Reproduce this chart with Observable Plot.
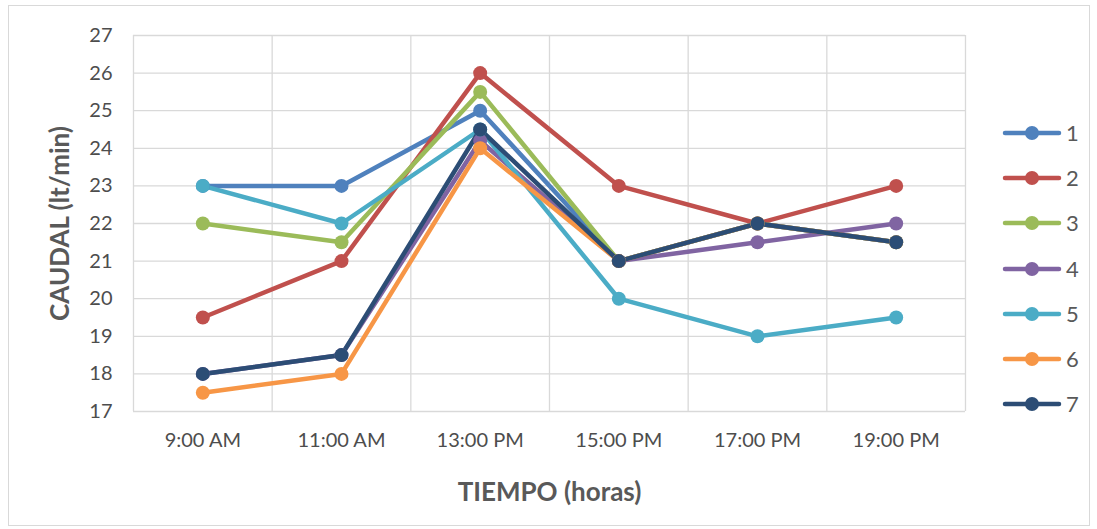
<!DOCTYPE html>
<html>
<head>
<meta charset="utf-8">
<script src="https://cdn.jsdelivr.net/npm/d3@7"></script>
<script src="https://cdn.jsdelivr.net/npm/@observablehq/plot@0.6"></script>
<style>
  html, body { margin: 0; padding: 0; background: #fff; }
  #wrap { position: relative; width: 1097px; height: 529px; font-family: Lato, "Open Sans", sans-serif; }
  #border { position: absolute; left: 8px; top: 5px; width: 1082px; height: 521px; border: 1px solid #d9d9d9; box-sizing: border-box; pointer-events: none; }
  #legend { position: absolute; left: 1002px; top: 110px; }
  .item { display: flex; align-items: center; height: 45.3px; }
  .item span { font-size: 22px; color: #595959; margin-left: 4px; line-height: 22px; }
</style>
</head>
<body>
<div id="wrap"><div id="border"></div><div id="legend"></div></div>
<script>
const categories = ["9:00 AM", "11:00 AM", "13:00 PM", "15:00 PM", "17:00 PM", "19:00 PM"];
const seriesNames = ["1", "2", "3", "4", "5", "6", "7"];
const colors = ["#4f81bd", "#c0504d", "#9bbb59", "#8064a2", "#4bacc6", "#f79646", "#2c4d75"];
const s1 = [23, 23, 25, 21, 22, 21.5];
const s2 = [19.5, 21, 26, 23, 22, 23];
const s3 = [22, 21.5, 25.5, 21, 22, 21.5];
const s4 = [18, 18.5, 24.2, 21, 21.5, 22];
const s5 = [23, 22, 24.5, 20, 19, 19.5];
const s6 = [17.5, 18, 24, 21, 22, 21.5];
const s7 = [18, 18.5, 24.5, 21, 22, 21.5];
const yTicks = [17, 18, 19, 20, 21, 22, 23, 24, 25, 26, 27];
const xTitle = "TIEMPO (horas)";
const yTitle = "CAUDAL (lt/min)";

const allSeries = [s1, s2, s3, s4, s5, s6, s7];
const data = allSeries.flatMap((vals, si) => vals.map((v, i) => ({serie: seriesNames[si], i, v})));
const xIdx = categories.map((_, i) => i);
const bounds = categories.map((_, i) => i - 0.5).concat([categories.length - 0.5]);

const chart = Plot.plot({
  width: 1097,
  height: 529,
  marginLeft: 133,
  marginRight: 132,
  marginTop: 35,
  marginBottom: 118,
  style: { fontFamily: "Lato, 'Open Sans', sans-serif", fontSize: "16px", color: "#4d4d4d", background: "transparent" },
  x: { domain: [-0.5, categories.length - 0.5] },
  y: { domain: [17, 27] },
  color: { domain: seriesNames, range: colors },
  marks: [
    Plot.ruleY(yTicks, { stroke: "#d9d9d9", strokeWidth: 1.3 }),
    Plot.ruleX(bounds, { stroke: "#d9d9d9", strokeWidth: 1.3 }),
    Plot.axisX(xIdx, { tickFormat: i => categories[i], tickSize: 0, tickPadding: 21, fontSize: 20, label: null }),
    Plot.axisY(yTicks, { tickSize: 0, tickPadding: 21, fontSize: 20, label: null }),
    Plot.text([xTitle], { text: d => d, frameAnchor: "bottom", lineAnchor: "middle", textAnchor: "middle", dy: 81, fontSize: 26, fontWeight: "bold", fill: "#595959" }),
    Plot.text([yTitle], { text: d => d, frameAnchor: "left", textAnchor: "middle", lineAnchor: "middle", dx: -73, rotate: -90, fontSize: 26, fontWeight: "bold", fill: "#595959" }),
    Plot.line(data, { x: "i", y: "v", z: "serie", stroke: "serie", strokeWidth: 4.5, strokeLinejoin: "round", strokeLinecap: "round" }),
    Plot.dot(data, { x: "i", y: "v", fill: "serie", r: 7 })
  ]
});
document.getElementById("wrap").insertBefore(chart, document.getElementById("border"));
chart.style.position = "absolute"; chart.style.left = "0"; chart.style.top = "0";

const legend = d3.select("#legend");
seriesNames.forEach((n, k) => {
  const it = legend.append("div").attr("class", "item");
  const svg = it.append("svg").attr("width", 60).attr("height", 16);
  svg.append("line").attr("x1", 3).attr("x2", 57).attr("y1", 8).attr("y2", 8).attr("stroke", colors[k]).attr("stroke-width", 4.5).attr("stroke-linecap", "round");
  svg.append("circle").attr("cx", 30).attr("cy", 8).attr("r", 7).attr("fill", colors[k]);
  it.append("span").text(n);
});
</script>
</body>
</html>
